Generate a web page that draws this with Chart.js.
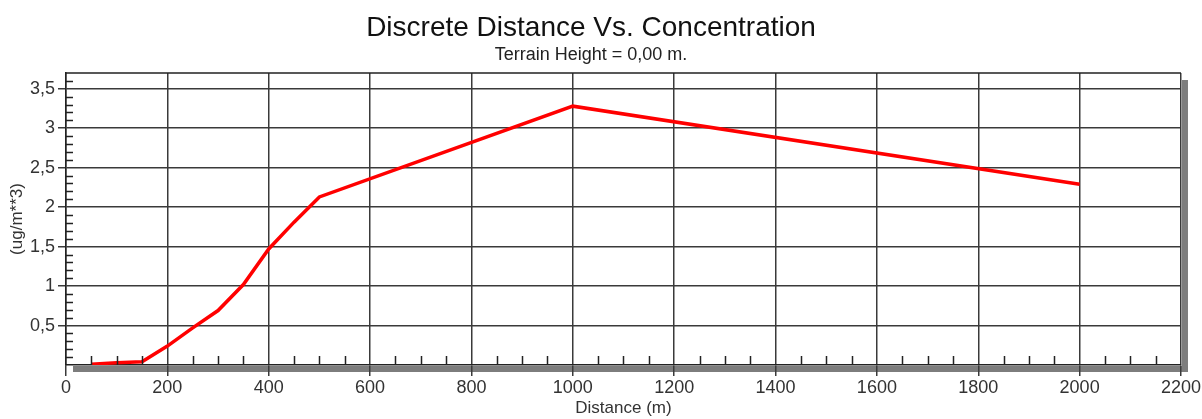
<!DOCTYPE html>
<html>
<head>
<meta charset="utf-8">
<script src="https://cdn.jsdelivr.net/npm/chart.js@4/dist/chart.umd.min.js"></script>
<style>
  html, body { margin: 0; padding: 0; background: #fff; }
  #wrap { width: 1202px; height: 419px; }
</style>
</head>
<body>
<div id="wrap"><canvas id="myChart" width="1202" height="419"></canvas></div>
<script>
const distances = [50, 100, 150, 200, 250, 300, 350, 400, 450, 500, 1000, 2000];
const concentrations = [0.01, 0.03, 0.04, 0.24, 0.47, 0.69, 1.02, 1.47, 1.81, 2.13, 3.28, 2.29];

const xTicks = [0, 200, 400, 600, 800, 1000, 1200, 1400, 1600, 1800, 2000, 2200];
const yTicks = [0.5, 1, 1.5, 2, 2.5, 3, 3.5];

const gridColor = "#3a3a3a";
const fontFamily = "Liberation Sans, Arial, sans-serif";

// shadow, frame top line and small inside ticks
const framePlugin = {
  id: "frame",
  beforeDraw: (chart) => {
    const { ctx, chartArea: a } = chart;
    ctx.save();
    ctx.fillStyle = "#7d7d7d";
    ctx.fillRect(a.right + 1, a.top + 7, 6, a.bottom - a.top);
    ctx.fillRect(a.left + 7, a.bottom + 1, a.right - a.left, 6);
    ctx.restore();
  },
  afterDraw: (chart) => {
    const { ctx, chartArea: a } = chart;
    const xs = chart.scales.x;
    const ys = chart.scales.y;
    ctx.save();
    ctx.strokeStyle = "#222";
    ctx.lineWidth = 1.5;
    ctx.beginPath();
    ctx.moveTo(a.left, a.top);
    ctx.lineTo(a.right, a.top);
    for (let v = 50; v < 2200; v += 50) {
      if (v % 200 === 0) continue;
      const px = Math.round(xs.getPixelForValue(v)) + 0.5;
      ctx.moveTo(px, a.bottom);
      ctx.lineTo(px, a.bottom - 9);
    }
    for (let i = 1; i <= 36; i++) {
      if (i % 5 === 0) continue;
      const py = Math.round(ys.getPixelForValue(i / 10)) + 0.5;
      ctx.moveTo(a.left, py);
      ctx.lineTo(a.left + 7, py);
    }
    ctx.stroke();
    ctx.restore();
  }
};

const config = {
  type: "line",
  data: {
    datasets: [
      {
        label: "Concentration",
        data: distances.map((d, i) => ({ x: d, y: concentrations[i] })),
        borderColor: "#ff0000",
        backgroundColor: "#ff0000",
        borderWidth: 3.5,
        pointRadius: 0,
        tension: 0,
        fill: false
      }
    ]
  },
  options: {
    responsive: false,
    animation: false,
    layout: { padding: { left: 0, right: 20, top: 0, bottom: 0 } },
    plugins: {
      legend: { display: false },
      tooltip: { enabled: false },
      title: {
        display: true,
        text: "Discrete Distance Vs. Concentration",
        color: "#111",
        font: { family: fontFamily, size: 28, weight: "normal" },
        padding: { top: 11, bottom: 0 }
      },
      subtitle: {
        display: true,
        text: "Terrain Height = 0,00 m.",
        color: "#222",
        font: { family: fontFamily, size: 18, weight: "normal" },
        padding: { top: 0, bottom: 6.8 }
      }
    },
    scales: {
      x: {
        type: "linear",
        min: 0,
        max: 2200,
        afterBuildTicks: (scale) => {
          scale.ticks = xTicks.map((v) => ({ value: v }));
        },
        afterFit: (scale) => { scale.height = 54; },
        ticks: {
          color: "#333",
          padding: 1,
          maxRotation: 0,
          font: { family: fontFamily, size: 18 },
          callback: (value) => String(value)
        },
        grid: { color: gridColor, lineWidth: 1.5, tickLength: 11, drawOnChartArea: true },
        border: { display: true, color: "#222", width: 1.5 },
        title: {
          display: true,
          text: "Distance (m)",
          color: "#333",
          padding: { top: 0, bottom: 0 },
          font: { family: fontFamily, size: 17 }
        }
      },
      y: {
        type: "linear",
        min: 0,
        max: 3.7,
        afterBuildTicks: (scale) => {
          scale.ticks = yTicks.map((v) => ({ value: v }));
        },
        afterFit: (scale) => { scale.width = 66; },
        ticks: {
          color: "#333",
          padding: 3,
          font: { family: fontFamily, size: 18 },
          callback: (value) => String(value).replace(".", ",")
        },
        grid: { color: gridColor, lineWidth: 1.5, tickLength: 8 },
        border: { display: true, color: "#222", width: 1.5 },
        title: {
          display: true,
          text: "(ug/m**3)",
          color: "#333",
          padding: { top: 7, bottom: 0 },
          font: { family: fontFamily, size: 17 }
        }
      }
    }
  },
  plugins: [framePlugin]
};

const myChart = new Chart(document.getElementById("myChart"), config);
</script>
</body>
</html>
